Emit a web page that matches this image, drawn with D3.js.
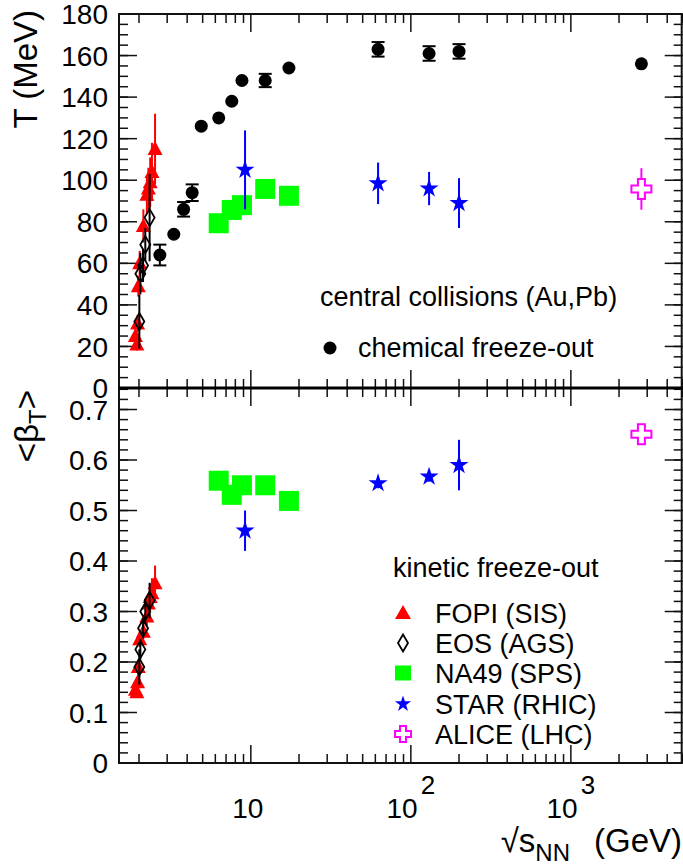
<!DOCTYPE html>
<html><head><meta charset="utf-8">
<script src="https://cdn.jsdelivr.net/npm/d3@7"></script>
<style>body{margin:0;background:#fff}svg{display:block}text{font-family:"Liberation Sans",Arial,sans-serif;fill:#000}</style>
</head><body>
<script>
// ---- data ----
const chemE = [2.7, 3.3, 3.8, 4.3, 4.9, 6.3, 7.6, 8.8, 12.3, 17.3, 62.4, 130, 200, 2760];
const chemT = [64, 74, 86, 94, 126, 130, 138, 148, 148, 154, 163, 161, 162, 156];
const chemTerr = [5, 0, 3.5, 4, 0, 0, 0, 0, 3.2, 3, 3.5, 3.5, 3.5, 0];

const fopiE = [1.90, 1.94, 1.96, 1.98, 2.02, 2.13, 2.24, 2.29, 2.35, 2.41, 2.52];
const fopiT = [25, 21, 31, 49, 60, 78, 93, 96, 99, 104, 115];
const fopiTerr = [3, 3, 4, 5, 6, 8, 9, 10, 12, 14, 17];
const fopiBeta = [0.145, 0.14, 0.16, 0.19, 0.245, 0.26, 0.29, 0.316, 0.329, 0.336, 0.356];
const fopiBetaErr = [0.01, 0.01, 0.01, 0.015, 0.015, 0.015, 0.02, 0.02, 0.025, 0.03, 0.035];

const eosE = [2.01, 2.04, 2.12, 2.19, 2.33];
const eosT = [32, 55, 59, 69, 82];
const eosTerr = [13, 10, 8, 8, 21];
const eosBeta = [0.19, 0.225, 0.267, 0.30, 0.322];
const eosBetaErr = [0.035, 0.02, 0.02, 0.025, 0.035];

const na49E = [6.3, 7.6, 8.8, 12.3, 17.3];
const na49T = [79.3, 85.7, 88, 95.8, 92.5];
const na49Beta = [0.559, 0.531, 0.55, 0.55, 0.519];

const starE = [9.2, 62.4, 130, 200];
const starT = [105, 98.5, 96, 89];
const starTerr = [19, 10, 8, 12];
const starBeta = [0.46, 0.554, 0.567, 0.59];
const starBetaErr = [0.04, 0.01, 0.01, 0.05];

const aliceE = [2760];
const aliceT = [95.8];
const aliceTerr = [10];
const aliceBeta = [0.651];
const aliceBetaErr = [0.015];

const tTicks = [0, 20, 40, 60, 80, 100, 120, 140, 160, 180];
const bTicks = [0, 0.1, 0.2, 0.3, 0.4, 0.5, 0.6, 0.7];
const xMajor = [10, 100, 1000];
const xMajorExp = ["", "2", "3"];
const legendNames = ["FOPI (SIS)", "EOS (AGS)", "NA49 (SPS)", "STAR (RHIC)", "ALICE (LHC)"];

// ---- layout ----
const W = 683, H = 867;
const L = 119, R = 682.7, TOP = 14, MID = 388, BOT = 763;
const x = d3.scaleLog().domain([1.5, 5000]).range([L, R]);
const yT = d3.scaleLinear().domain([0, 180]).range([MID, TOP]);
const yB = d3.scaleLinear().domain([0, 0.7426]).range([BOT, MID]);

const svg = d3.select("body").append("svg").attr("width", W).attr("height", H);

// ---- axes & ticks ----
const g = svg.append("g");
const minorX = [];
[1, 10, 100, 1000].forEach(d => { for (let k = 2; k <= 9; k++) { const v = k * d; if (v >= 1.5 && v <= 5000) minorX.push(v); } });

function xTicks(yLine, dir) {
  g.selectAll(null).data(minorX).enter().append("line")
    .attr("x1", d => x(d)).attr("x2", d => x(d))
    .attr("y1", yLine).attr("y2", yLine + dir * 9)
    .attr("stroke", "#111").attr("stroke-width", 1.5);
  g.selectAll(null).data(xMajor).enter().append("line")
    .attr("x1", d => x(d)).attr("x2", d => x(d))
    .attr("y1", yLine).attr("y2", yLine + dir * 18)
    .attr("stroke", "#111").attr("stroke-width", 1.5);
}
xTicks(TOP, 1); xTicks(MID, -1); xTicks(MID, 1); xTicks(BOT, -1);

function yTicks(scale, maj, minStep, maxV) {
  const mins = d3.range(0, maxV + 1e-9, minStep);
  [[L, 1], [R, -1]].forEach(([x0, dir]) => {
    g.selectAll(null).data(mins).enter().append("line")
      .attr("x1", x0).attr("x2", x0 + dir * 9)
      .attr("y1", d => scale(d)).attr("y2", d => scale(d))
      .attr("stroke", "#111").attr("stroke-width", 1.5);
    g.selectAll(null).data(maj).enter().append("line")
      .attr("x1", x0).attr("x2", x0 + dir * 18)
      .attr("y1", d => scale(d)).attr("y2", d => scale(d))
      .attr("stroke", "#111").attr("stroke-width", 1.5);
  });
}
yTicks(yT, tTicks, 5, 180);
yTicks(yB, bTicks, 0.02, 0.74);

// frame
g.append("rect").attr("x", L).attr("y", TOP).attr("width", R - L - 1).attr("height", BOT - TOP)
  .attr("fill", "none").attr("stroke", "#111").attr("stroke-width", 2);
g.append("line").attr("x1", L).attr("x2", R).attr("y1", MID).attr("y2", MID)
  .attr("stroke", "#000").attr("stroke-width", 3);

// tick labels
const fs = 28;
g.selectAll(null).data(tTicks).enter().append("text")
  .attr("x", 108).attr("y", d => yT(d)).attr("dy", "0.36em")
  .attr("text-anchor", "end").attr("font-size", fs).text(d => d);
g.selectAll(null).data(bTicks).enter().append("text")
  .attr("x", 108).attr("y", d => yB(d)).attr("dy", "0.36em")
  .attr("text-anchor", "end").attr("font-size", fs).text(d => d === 0 ? "0" : d.toFixed(1));
const xl = g.selectAll(null).data(xMajor).enter().append("text")
  .attr("x", (d, i) => x(d) - (i === 0 ? 3 : 0)).attr("y", 818)
  .attr("text-anchor", "middle").attr("font-size", fs);
xl.append("tspan").text("10");
xl.append("tspan").attr("dx", 3).attr("dy", -24).attr("font-size", 26).text((d, i) => xMajorExp[i]);

// axis titles
const xt = svg.append("text").attr("x", 682).attr("y", 852).attr("text-anchor", "end").attr("font-size", 33);
xt.append("tspan").text("\u221As");
xt.append("tspan").attr("font-size", 24).attr("dy", 9).text("NN");
xt.append("tspan").attr("dx", 24).attr("dy", -9).text("(GeV)");

svg.append("text").attr("transform", "translate(37,10) rotate(-90)")
  .attr("text-anchor", "end").attr("font-size", 33).text("T (MeV)");
const bt = svg.append("text").attr("transform", "translate(38,390) rotate(-90)")
  .attr("text-anchor", "end").attr("font-size", 33);
bt.append("tspan").text("<\u03B2");
bt.append("tspan").attr("font-size", 24).attr("dy", 8).text("T");
bt.append("tspan").attr("dy", -8).text(">");

// ---- marker shapes ----
const triPath = (w, h) => `M0,${-h * 0.57}L${w / 2},${h * 0.43}L${-w / 2},${h * 0.43}Z`;
const diaPath = (w, h) => `M0,${-h / 2}L${w / 2},0L0,${h / 2}L${-w / 2},0Z`;
const crossPath = (s, a) => `M${-a},${-s}H${a}V${-a}H${s}V${a}H${a}V${s}H${-a}V${a}H${-s}V${-a}H${-a}Z`;
const starPath = r => d3.symbol(d3.symbolStar, r * r / 0.8908130915292852)();

// ---- series drawing ----
const plot = svg.append("g");
function errBars(E, V, Err, ys, color, cap, minPx) {
  const data = E.map((e, i) => ({ e, v: V[i], err: Err[i] })).filter(d => (ys(d.v - d.err) - ys(d.v + d.err)) / 2 > minPx);
  plot.selectAll(null).data(data).enter().append("line")
    .attr("x1", d => x(d.e)).attr("x2", d => x(d.e))
    .attr("y1", d => ys(d.v + d.err)).attr("y2", d => ys(d.v - d.err))
    .attr("stroke", color).attr("stroke-width", 2);
  if (cap) {
    [1, -1].forEach(s => {
      plot.selectAll(null).data(data).enter().append("line")
        .attr("x1", d => x(d.e) - cap).attr("x2", d => x(d.e) + cap)
        .attr("y1", d => ys(d.v + s * d.err)).attr("y2", d => ys(d.v + s * d.err))
        .attr("stroke", color).attr("stroke-width", 2);
    });
  }
}
function markers(E, V, ys, path, fill, stroke, sw) {
  plot.selectAll(null).data(E.map((e, i) => ({ e, v: V[i] }))).enter().append("path")
    .attr("transform", d => `translate(${x(d.e)},${ys(d.v)})`)
    .attr("d", path).attr("fill", fill).attr("stroke", stroke || "none").attr("stroke-width", sw || 0);
}

// top panel
errBars(chemE, chemT, chemTerr, yT, "#000", 6.5, 6.5);
plot.selectAll(null).data(chemE.map((e, i) => ({ e, v: chemT[i] }))).enter().append("circle")
  .attr("cx", d => x(d.e)).attr("cy", d => yT(d.v)).attr("r", 6.5).attr("fill", "#000");
errBars(fopiE, fopiT, fopiTerr, yT, "#ff0000", 0, 0);
markers(fopiE, fopiT, yT, triPath(15, 14), "#ff0000");
errBars(eosE, eosT, eosTerr, yT, "#000", 0, 0);
markers(eosE, eosT, yT, diaPath(10, 17), "none", "#000", 1.8);
markers(na49E, na49T, yT, "M-10,-10H10V10H-10Z", "#00ff00");
errBars(starE, starT, starTerr, yT, "#0000ff", 0, 0);
markers(starE, starT, yT, starPath(10), "#0000ff");
errBars(aliceE, aliceT, aliceTerr, yT, "#ff00ff", 0, 0);
markers(aliceE, aliceT, yT, crossPath(10, 3.5), "#fff", "#ff00ff", 2);

// bottom panel
errBars(fopiE, fopiBeta, fopiBetaErr, yB, "#ff0000", 0, 0);
markers(fopiE, fopiBeta, yB, triPath(15, 14), "#ff0000");
errBars(eosE, eosBeta, eosBetaErr, yB, "#000", 0, 0);
markers(eosE, eosBeta, yB, diaPath(10, 17), "none", "#000", 1.8);
markers(na49E, na49Beta, yB, "M-10,-10H10V10H-10Z", "#00ff00");
errBars(starE, starBeta, starBetaErr, yB, "#0000ff", 0, 0);
markers(starE, starBeta, yB, starPath(10), "#0000ff");
errBars(aliceE, aliceBeta, aliceBetaErr, yB, "#ff00ff", 0, 10.5);
markers(aliceE, aliceBeta, yB, crossPath(10, 3.5), "#fff", "#ff00ff", 2);

// ---- legends ----
const lfs = 27;
svg.append("text").attr("x", 320).attr("y", 306).attr("font-size", lfs).text("central collisions (Au,Pb)");
svg.append("circle").attr("cx", 330).attr("cy", 348).attr("r", 6.5).attr("fill", "#000");
svg.append("text").attr("x", 358).attr("y", 357).attr("font-size", lfs).text("chemical freeze-out");
svg.append("text").attr("x", 393).attr("y", 577).attr("font-size", lfs).text("kinetic freeze-out");

const legY = [613, 643, 673, 704, 734];
const legShapes = [
  { d: triPath(16, 14), fill: "#ff0000" },
  { d: diaPath(10, 17), fill: "none", stroke: "#000", sw: 1.8 },
  { d: "M-8,-7.5H8V7.5H-8Z", fill: "#00ff00" },
  { d: starPath(8.5), fill: "#0000ff" },
  { d: crossPath(8, 3), fill: "#fff", stroke: "#ff00ff", sw: 2 }
];
legendNames.forEach((n, i) => {
  const s = legShapes[i];
  svg.append("path").attr("transform", `translate(403,${legY[i]})`).attr("d", s.d)
    .attr("fill", s.fill).attr("stroke", s.stroke || "none").attr("stroke-width", s.sw || 0);
  svg.append("text").attr("x", 435).attr("y", legY[i] + 10).attr("font-size", lfs).text(n);
});
</script>
</body></html>
